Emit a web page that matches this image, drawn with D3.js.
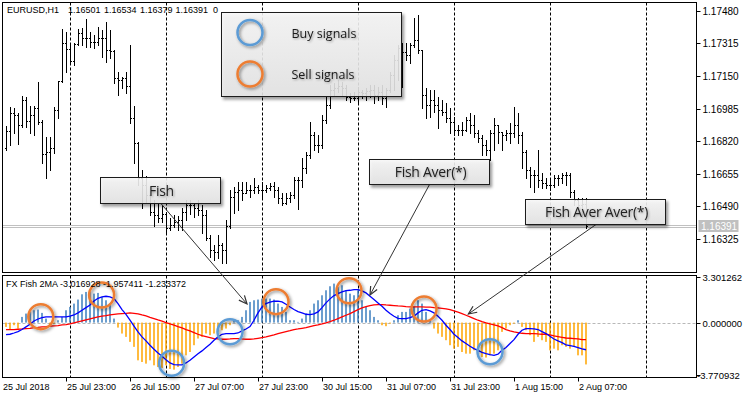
<!DOCTYPE html>
<html>
<head>
<meta charset="utf-8">
<script src="https://cdn.jsdelivr.net/npm/d3@7"></script>
<style>
  body { margin: 0; background: #fff; }
  svg { display: block; }
</style>
</head>
<body>
<svg id="chart" width="750" height="398"></svg>
<script>
// EURUSD H1 bars
const opens = [1.16785,1.16871,1.16962,1.16952,1.16901,1.17028,1.16922,1.16952,1.16988,1.16917,
  1.16755,1.16765,1.16785,1.16977,1.17124,1.17316,1.17286,1.17225,1.17311,1.17367,
  1.17342,1.17342,1.17321,1.17321,1.17342,1.17342,1.17281,1.17276,1.17139,1.17129,
  1.17139,1.17099,1.16937,1.16810,1.16633,1.16598,1.16547,1.16461,1.16446,1.16431,
  1.16451,1.16380,1.16396,1.16411,1.16421,1.16461,1.16497,1.16497,1.16482,1.16471,
  1.16446,1.16330,1.16269,1.16259,1.16294,1.16269,1.16390,1.16537,1.16562,1.16573,
  1.16557,1.16573,1.16573,1.16588,1.16573,1.16573,1.16583,1.16593,1.16573,1.16532,
  1.16507,1.16532,1.16547,1.16623,1.16623,1.16684,1.16750,1.16851,1.16800,1.16800,
  1.16927,1.17003,1.17079,1.17089,1.17099,1.17089,1.17043,1.17038,1.17038,1.17068,
  1.17063,1.17074,1.17079,1.17053,1.17068,1.17038,1.17079,1.17154,1.17230,1.17291,
  1.17271,1.17256,1.17306,1.17332,1.17281,1.17053,1.17003,1.17028,1.17003,1.16977,
  1.16967,1.16937,1.16917,1.16876,1.16876,1.16876,1.16927,1.16901,1.16861,1.16836,
  1.16800,1.16775,1.16861,1.16901,1.16866,1.16851,1.16861,1.16861,1.16901,1.16851,
  1.16765,1.16674,1.16648,1.16648,1.16623,1.16608,1.16598,1.16598,1.16633,1.16633,
  1.16648,1.16648,1.16562,1.16522,1.16497,1.16501];
const highs = [1.16896,1.16993,1.16988,1.16962,1.17048,1.17043,1.16998,1.16998,1.17119,1.16927,
  1.16841,1.16841,1.16993,1.17124,1.17387,1.17372,1.17316,1.17316,1.17387,1.17392,
  1.17438,1.17372,1.17357,1.17397,1.17382,1.17423,1.17382,1.17281,1.17170,1.17144,
  1.17170,1.17306,1.16998,1.16815,1.16674,1.16643,1.16547,1.16522,1.16507,1.16497,
  1.16461,1.16431,1.16446,1.16441,1.16482,1.16522,1.16522,1.16507,1.16522,1.16497,
  1.16471,1.16345,1.16294,1.16345,1.16304,1.16421,1.16573,1.16588,1.16613,1.16613,
  1.16613,1.16598,1.16633,1.16598,1.16613,1.16598,1.16608,1.16613,1.16588,1.16557,
  1.16557,1.16562,1.16638,1.16638,1.16734,1.16765,1.16917,1.16866,1.16851,1.16952,
  1.17043,1.17104,1.17114,1.17129,1.17119,1.17104,1.17063,1.17068,1.17094,1.17079,
  1.17089,1.17104,1.17104,1.17094,1.17104,1.17089,1.17170,1.17256,1.17306,1.17316,
  1.17316,1.17316,1.17443,1.17458,1.17281,1.17089,1.17079,1.17079,1.17043,1.17028,
  1.17013,1.16988,1.16942,1.16901,1.16917,1.16942,1.16962,1.16952,1.16876,1.16851,
  1.16826,1.16876,1.16937,1.16901,1.16866,1.16876,1.16912,1.16993,1.16962,1.16866,
  1.16775,1.16689,1.16674,1.16775,1.16659,1.16633,1.16623,1.16648,1.16648,1.16659,
  1.16664,1.16659,1.16573,1.16532,1.16532,1.16534];
const lows = [1.16775,1.16800,1.16861,1.16805,1.16891,1.16891,1.16861,1.16851,1.16907,1.16709,
  1.16633,1.16674,1.16760,1.16937,1.17119,1.17170,1.17210,1.17205,1.17306,1.17306,
  1.17296,1.17296,1.17291,1.17306,1.17246,1.17220,1.17241,1.17114,1.17053,1.17089,
  1.17063,1.16912,1.16709,1.16598,1.16482,1.16507,1.16446,1.16390,1.16411,1.16411,
  1.16355,1.16370,1.16385,1.16370,1.16370,1.16421,1.16451,1.16436,1.16446,1.16355,
  1.16320,1.16234,1.16218,1.16229,1.16203,1.16203,1.16380,1.16456,1.16471,1.16522,
  1.16557,1.16537,1.16557,1.16557,1.16537,1.16562,1.16573,1.16537,1.16507,1.16497,
  1.16502,1.16512,1.16532,1.16476,1.16588,1.16659,1.16734,1.16775,1.16765,1.16785,
  1.16912,1.16988,1.17053,1.17068,1.17053,1.17028,1.17018,1.17028,1.17018,1.17038,
  1.17028,1.17043,1.17013,1.17028,1.17008,1.16993,1.17068,1.17079,1.17129,1.17094,
  1.17230,1.17215,1.17296,1.17266,1.16988,1.16937,1.16942,1.16967,1.16886,1.16952,
  1.16917,1.16861,1.16851,1.16851,1.16851,1.16871,1.16861,1.16841,1.16815,1.16750,
  1.16750,1.16724,1.16775,1.16810,1.16775,1.16826,1.16810,1.16841,1.16810,1.16684,
  1.16633,1.16588,1.16562,1.16588,1.16583,1.16583,1.16573,1.16588,1.16598,1.16608,
  1.16598,1.16537,1.16497,1.16456,1.16436,1.16379];
const closes = [1.16871,1.16962,1.16952,1.16901,1.17028,1.16922,1.16952,1.16988,1.16917,1.16755,
  1.16765,1.16785,1.16977,1.17124,1.17316,1.17286,1.17225,1.17311,1.17367,1.17342,
  1.17342,1.17321,1.17321,1.17342,1.17342,1.17281,1.17276,1.17139,1.17129,1.17139,
  1.17099,1.16937,1.16810,1.16633,1.16598,1.16547,1.16461,1.16446,1.16431,1.16451,
  1.16380,1.16396,1.16411,1.16421,1.16461,1.16497,1.16497,1.16482,1.16471,1.16446,
  1.16330,1.16269,1.16259,1.16294,1.16269,1.16390,1.16537,1.16562,1.16573,1.16557,
  1.16573,1.16573,1.16588,1.16573,1.16573,1.16583,1.16593,1.16573,1.16532,1.16507,
  1.16532,1.16547,1.16623,1.16623,1.16684,1.16750,1.16851,1.16800,1.16800,1.16927,
  1.17003,1.17079,1.17089,1.17099,1.17089,1.17043,1.17038,1.17038,1.17068,1.17063,
  1.17074,1.17079,1.17053,1.17068,1.17038,1.17079,1.17154,1.17230,1.17291,1.17271,
  1.17256,1.17306,1.17332,1.17281,1.17053,1.17003,1.17028,1.17003,1.16977,1.16967,
  1.16937,1.16917,1.16876,1.16876,1.16876,1.16927,1.16901,1.16861,1.16836,1.16800,
  1.16775,1.16861,1.16901,1.16866,1.16851,1.16861,1.16861,1.16901,1.16851,1.16765,
  1.16674,1.16648,1.16648,1.16623,1.16608,1.16598,1.16598,1.16633,1.16633,1.16648,
  1.16648,1.16562,1.16522,1.16497,1.16502,1.16391];

// FX Fish 2MA buffers
const fish = [-0.31,-0.50,-0.19,-0.43,0.41,0.65,0.77,0.89,0.94,0.70,
  0.29,-0.19,-0.07,0.17,0.41,0.89,1.13,1.37,1.66,2.04,
  2.21,2.21,2.09,2.14,1.85,1.61,1.37,0.29,-0.36,-0.79,
  -1.03,-1.39,-1.75,-2.72,-2.84,-2.96,-2.72,-3.08,-3.20,-3.27,
  -3.08,-3.34,-3.39,-3.20,-2.96,-2.36,-2.12,-1.63,-1.15,-1.03,
  -0.79,-0.91,-0.79,-0.67,-0.55,-0.43,-0.19,0.17,0.17,0.41,
  0.89,1.49,1.61,1.66,1.73,1.73,1.73,1.66,1.37,1.13,
  0.77,0.17,0.17,0.05,0.29,0.65,0.89,1.37,1.61,1.97,
  2.33,2.62,2.81,2.57,2.69,2.33,2.09,1.97,2.33,1.61,
  1.13,0.89,0.41,0.17,-0.19,-0.26,-0.07,0.17,0.53,0.77,
  0.77,1.01,1.13,1.61,1.37,0.77,0.17,-0.43,-0.79,-1.03,
  -1.27,-1.63,-1.88,-1.75,-2.12,-2.24,-2.24,-2.00,-2.12,-2.48,
  -2.52,-2.36,-2.24,-2.00,-0.67,-0.43,-0.19,-0.07,0.17,-0.31,
  -0.55,-0.91,-1.39,-1.03,-1.27,-1.39,-2.00,-1.88,-2.00,-1.63,
  -1.75,-1.88,-1.75,-2.36,-2.36,-3.016928];
const fishAver = [-0.87,-0.84,-0.75,-0.65,-0.50,-0.31,-0.12,0.12,0.26,0.36,
  0.41,0.41,0.41,0.41,0.41,0.41,0.46,0.55,0.70,0.89,
  1.08,1.27,1.56,1.75,1.85,1.90,1.85,1.73,1.37,0.94,
  0.60,0.17,-0.26,-0.67,-1.03,-1.32,-1.63,-1.92,-2.19,-2.43,
  -2.67,-2.91,-3.03,-3.05,-3.05,-2.91,-2.72,-2.48,-2.24,-2.04,
  -1.80,-1.56,-1.27,-1.03,-0.84,-0.79,-0.79,-0.79,-0.75,-0.60,
  -0.46,-0.28,0.17,0.70,1.13,1.37,1.47,1.54,1.54,1.49,
  1.32,1.13,0.94,0.79,0.70,0.60,0.58,0.63,0.77,1.08,
  1.42,1.71,1.95,2.09,2.21,2.31,2.33,2.38,2.38,2.28,
  2.14,1.90,1.66,1.42,1.18,0.89,0.65,0.46,0.31,0.29,
  0.29,0.36,0.46,0.70,0.89,0.94,0.84,0.70,0.46,0.17,
  -0.19,-0.50,-0.84,-1.08,-1.32,-1.51,-1.71,-1.88,-2.00,-2.14,
  -2.24,-2.31,-2.36,-2.28,-2.00,-1.80,-1.51,-1.23,-0.84,-0.55,
  -0.43,-0.43,-0.46,-0.50,-0.65,-0.79,-0.99,-1.18,-1.32,-1.44,
  -1.61,-1.66,-1.71,-1.80,-1.90,-1.957411];
const fishAverAver = [-0.50,-0.50,-0.50,-0.48,-0.46,-0.43,-0.41,-0.36,-0.34,-0.31,
  -0.29,-0.26,-0.24,-0.22,-0.17,-0.14,-0.10,-0.02,0.05,0.12,
  0.19,0.26,0.34,0.41,0.46,0.50,0.55,0.60,0.63,0.65,
  0.67,0.70,0.67,0.63,0.55,0.48,0.38,0.29,0.19,0.10,
  0.00,-0.10,-0.19,-0.29,-0.38,-0.50,-0.60,-0.72,-0.84,-0.94,
  -1.01,-1.08,-1.15,-1.18,-1.20,-1.20,-1.18,-1.15,-1.15,-1.18,
  -1.20,-1.20,-1.18,-1.13,-1.08,-1.03,-0.96,-0.89,-0.79,-0.72,
  -0.65,-0.58,-0.50,-0.46,-0.41,-0.36,-0.29,-0.22,-0.17,-0.10,
  -0.02,0.07,0.17,0.29,0.41,0.53,0.65,0.79,0.94,1.06,
  1.15,1.23,1.27,1.30,1.30,1.27,1.25,1.23,1.20,1.18,
  1.15,1.13,1.13,1.13,1.13,1.11,1.11,1.08,1.06,1.03,
  0.99,0.94,0.84,0.75,0.65,0.53,0.41,0.29,0.17,0.07,
  -0.02,-0.10,-0.17,-0.24,-0.36,-0.50,-0.60,-0.67,-0.72,-0.77,
  -0.79,-0.79,-0.79,-0.82,-0.84,-0.84,-0.89,-0.96,-1.01,-1.06,
  -1.11,-1.13,-1.15,-1.18,-1.23,-1.233372];

// signals: [bar, level]
const sellSignals = [[8.7, 0.43], [23.9, 1.99], [67.5, 1.51], [85.75, 2.30], [104.5, 0.98]];
const buySignals = [[41.4, -2.93], [56, -0.66], [121, -2.10]];

// axes
const priceTicks = [1.17480, 1.17315, 1.17150, 1.16985, 1.16820, 1.16655, 1.16490, 1.16325];
const indTicks = [3.301262, 0.0, -3.770932];
const timeTickBars = [15, 31, 47, 63, 79, 95, 111, 127, 143];
const timeTickLabels = ['25 Jul 23:00', '26 Jul 15:00', '27 Jul 07:00', '27 Jul 23:00', '30 Jul 15:00',
  '31 Jul 07:00', '31 Jul 23:00', '1 Aug 15:00', '2 Aug 07:00'];
const firstTimeLabel = '25 Jul 2018';
const separatorBars = [16, 40, 64, 88, 112, 136, 160];
const lastBid = 1.16391;

// callouts: label, target [bar, level]
const calloutLabels = ['Fish', 'Fish Aver(*)', 'Fish Aver Aver(*)'];
const calloutTargets = [[60.25, 1.34], [91, 1.99], [115.6, 0.62]];
const legendLabels = ['Buy signals', 'Sell signals'];

const svg = d3.select('svg#chart');
const left = 2.5, right = 696.5;
const mainTop = 2.5, mainBottom = 272.5, indTop = 275.5, indBottom = 377.5;

const x = d3.scaleLinear().domain([0, 145]).range([6, 586]);
const yP = d3.scaleLinear().domain([1.16325, 1.17480]).range([239, 10.7]);
const yI = d3.scaleLinear().domain([-3.770932, 3.301262]).range([374.9, 276.8]);

const axisFont = "'Liberation Sans', Arial, sans-serif";
const noteFont = "'Open Sans', 'Noto Sans', sans-serif";

// ---- defs
const defs = svg.append('defs');
const boxShadow = defs.append('filter').attr('id', 'boxShadow')
  .attr('x', '-10%').attr('y', '-20%').attr('width', '130%').attr('height', '160%');
boxShadow.append('feDropShadow').attr('dx', 2).attr('dy', 2.5).attr('stdDeviation', 1.8)
  .attr('flood-color', '#000').attr('flood-opacity', 0.45);
const ringShadow = defs.append('filter').attr('id', 'ringShadow')
  .attr('x', '-40%').attr('y', '-40%').attr('width', '190%').attr('height', '190%');
ringShadow.append('feDropShadow').attr('dx', 1.5).attr('dy', 1.5).attr('stdDeviation', 1.6)
  .attr('flood-color', '#000').attr('flood-opacity', 0.45);
const textShadow = defs.append('filter').attr('id', 'textShadow')
  .attr('x', '-10%').attr('y', '-30%').attr('width', '130%').attr('height', '170%');
textShadow.append('feDropShadow').attr('dx', 1).attr('dy', 1).attr('stdDeviation', 0.8)
  .attr('flood-color', '#000').attr('flood-opacity', 0.35);
const grad = defs.append('linearGradient').attr('id', 'boxFill')
  .attr('x1', 0).attr('y1', 0).attr('x2', 0).attr('y2', 1);
grad.append('stop').attr('offset', '0%').attr('stop-color', '#f8f8f8');
grad.append('stop').attr('offset', '100%').attr('stop-color', '#e6e6e6');
defs.append('clipPath').attr('id', 'mainClip').append('rect')
  .attr('x', 3).attr('y', 3).attr('width', 693).attr('height', 269);
defs.append('clipPath').attr('id', 'indClip').append('rect')
  .attr('x', 3).attr('y', 276).attr('width', 693).attr('height', 101);

svg.append('rect').attr('width', 750).attr('height', 398).attr('fill', '#fff');

// ---- main window
const gMain = svg.append('g').attr('clip-path', 'url(#mainClip)');
gMain.selectAll('line.sep').data(separatorBars).join('line')
  .attr('x1', d => Math.round(x(d)) + 0.5).attr('x2', d => Math.round(x(d)) + 0.5)
  .attr('y1', mainTop).attr('y2', mainBottom)
  .attr('stroke', '#000').attr('stroke-dasharray', '3,2');

[-1, 1].forEach(o => {
  gMain.append('line')
    .attr('x1', left).attr('x2', right)
    .attr('y1', Math.round(yP(lastBid)) + o + 0.5).attr('y2', Math.round(yP(lastBid)) + o + 0.5)
    .attr('stroke', '#c0c0c0');
});

const gBars = gMain.append('g').attr('shape-rendering', 'crispEdges').attr('fill', '#000');
closes.forEach((c, i) => {
  const px = Math.round(x(i));
  const yh = Math.round(yP(highs[i])), yl = Math.round(yP(lows[i]));
  gBars.append('rect').attr('x', px).attr('y', yh).attr('width', 1).attr('height', yl - yh + 1);
  gBars.append('rect').attr('x', px - 1).attr('y', Math.round(yP(opens[i]))).attr('width', 1).attr('height', 1);
  gBars.append('rect').attr('x', px + 1).attr('y', Math.round(yP(c))).attr('width', 1).attr('height', 1);
});

// ---- indicator window
const gInd = svg.append('g').attr('clip-path', 'url(#indClip)');
gInd.selectAll('line.sep').data(separatorBars).join('line')
  .attr('x1', d => Math.round(x(d)) + 0.5).attr('x2', d => Math.round(x(d)) + 0.5)
  .attr('y1', indTop).attr('y2', indBottom)
  .attr('stroke', '#000').attr('stroke-dasharray', '3,2');
gInd.append('line')
  .attr('x1', left).attr('x2', right)
  .attr('y1', Math.round(yI(0)) + 0.5).attr('y2', Math.round(yI(0)) + 0.5)
  .attr('stroke', '#b8b8b8').attr('stroke-dasharray', '3,2');
gInd.append('g')
  .selectAll('rect').data(fish).join('rect')
  .attr('x', (d, i) => Math.round(x(i)) - 0.75).attr('width', 1.5)
  .attr('y', d => Math.min(yI(0), yI(d))).attr('height', d => Math.abs(yI(d) - yI(0)))
  .attr('fill', d => d >= 0 ? '#3d7fbf' : '#ffa500');

const line = d3.line().x((d, i) => x(i)).y(d => yI(d));
gInd.append('path').datum(fishAverAver).attr('d', line)
  .attr('fill', 'none').attr('stroke', '#ff0000').attr('stroke-width', 1.3);
gInd.append('path').datum(fishAver).attr('d', line)
  .attr('fill', 'none').attr('stroke', '#0000ff').attr('stroke-width', 1.3);

const ring = (g, cx, cy, color) => g.append('circle')
  .attr('cx', cx).attr('cy', cy).attr('r', 12.5)
  .attr('fill', 'none').attr('stroke', color).attr('stroke-width', 2.5)
  .attr('filter', 'url(#ringShadow)');
sellSignals.forEach(d => ring(svg, x(d[0]), yI(d[1]), '#ed7d31'));
buySignals.forEach(d => ring(svg, x(d[0]), yI(d[1]), '#5b9bd5'));

// ---- frames
svg.append('rect').attr('x', left).attr('y', mainTop)
  .attr('width', right - left).attr('height', mainBottom - mainTop)
  .attr('fill', 'none').attr('stroke', '#000');
svg.append('rect').attr('x', left).attr('y', indTop)
  .attr('width', right - left).attr('height', indBottom - indTop)
  .attr('fill', 'none').attr('stroke', '#000');

// ---- price axis
const gAxis = svg.append('g').attr('font-family', axisFont).attr('fill', '#000');
priceTicks.forEach(p => {
  const y = Math.round(yP(p)) + 0.5;
  gAxis.append('line').attr('x1', right).attr('x2', right + 4).attr('y1', y).attr('y2', y).attr('stroke', '#000');
  gAxis.append('text').attr('x', right + 6).attr('y', y + 3.5).attr('font-size', 10).text(p.toFixed(5));
});
const bidY = Math.round(yP(lastBid));
gAxis.append('rect').attr('x', right + 2).attr('y', bidY - 6).attr('width', 40).attr('height', 12).attr('fill', '#c0c0c0');
gAxis.append('text').attr('x', right + 4.5).attr('y', bidY + 3.5).attr('font-size', 10)
  .attr('fill', '#fff').text(lastBid.toFixed(5));

indTicks.forEach(v => {
  const y = Math.round(yI(v)) + 0.5;
  gAxis.append('line').attr('x1', right).attr('x2', right + 4).attr('y1', y).attr('y2', y).attr('stroke', '#000');
  gAxis.append('text').attr('x', v < 0 ? right + 0.5 : right + 6).attr('y', y + 3.5)
    .attr('font-size', 9.5).text(v.toFixed(6));
});

// ---- time axis
gAxis.append('text').attr('x', 3).attr('y', 390).attr('font-size', 9).text(firstTimeLabel);
timeTickBars.forEach((b, k) => {
  const tx = Math.round(x(b)) + 0.5;
  gAxis.append('line').attr('x1', tx).attr('x2', tx).attr('y1', indBottom).attr('y2', indBottom + 4).attr('stroke', '#000');
  gAxis.append('text').attr('x', tx + 0.5).attr('y', 390).attr('font-size', 9).text(timeTickLabels[k]);
});

// ---- headers
const last = closes.length - 1;
const header = ['EURUSD,H1', opens[last].toFixed(5), highs[last].toFixed(5), lows[last].toFixed(5), closes[last].toFixed(5), '0'];
const headerX = [7, 68, 104, 140, 175.5, 213];
header.forEach((t, k) => {
  gAxis.append('text').attr('x', headerX[k]).attr('y', 13).attr('font-size', 9).text(t);
});
gAxis.append('text').attr('x', 6).attr('y', 286.5).attr('font-size', 9)
  .text(`FX Fish 2MA ${fish[last].toFixed(6)} ${fishAver[last].toFixed(6)} ${fishAverAver[last].toFixed(6)}`);

// ---- callouts
const boxes = [
  { x: 100.5, y: 177.5, w: 120, h: 26, from: [160.5, 203] },
  { x: 369.5, y: 159.5, w: 120, h: 25, from: [429.5, 184.5] },
  { x: 525.5, y: 199.5, w: 140, h: 25, from: [596, 224.5] },
];
const gNote = svg.append('g');
boxes.forEach((b, k) => {
  const tx = x(calloutTargets[k][0]), ty = yI(calloutTargets[k][1]);
  const [fx, fy] = b.from;
  gNote.append('line').attr('x1', fx).attr('y1', fy).attr('x2', tx).attr('y2', ty)
    .attr('stroke', '#333').attr('stroke-width', 1);
  const a = Math.atan2(ty - fy, tx - fx);
  const len = 9, spread = 0.42;
  const p1 = [tx - len * Math.cos(a - spread), ty - len * Math.sin(a - spread)];
  const p2 = [tx - len * Math.cos(a + spread), ty - len * Math.sin(a + spread)];
  gNote.append('path').attr('d', `M${p1}L${tx},${ty}L${p2}`)
    .attr('fill', 'none').attr('stroke', '#333').attr('stroke-width', 1.2);
});
boxes.forEach((b, k) => {
  gNote.append('rect').attr('x', b.x).attr('y', b.y).attr('width', b.w).attr('height', b.h)
    .attr('fill', 'url(#boxFill)').attr('fill-opacity', 0.86)
    .attr('stroke', '#1e1e1e').attr('filter', 'url(#boxShadow)');
  gNote.append('text').attr('x', b.x + b.w / 2 + 1).attr('y', b.y + b.h / 2 + 5)
    .attr('text-anchor', 'middle').attr('font-family', noteFont).attr('font-size', 14)
    .attr('letter-spacing', -0.3).attr('fill', '#222').attr('filter', 'url(#textShadow)')
    .text(calloutLabels[k]);
});

// ---- legend
const gLeg = svg.append('g');
gLeg.append('rect').attr('x', 221.5).attr('y', 12.5).attr('width', 180).attr('height', 84)
  .attr('fill', 'url(#boxFill)').attr('fill-opacity', 0.86)
  .attr('stroke', '#1e1e1e').attr('filter', 'url(#boxShadow)');
ring(gLeg, 250, 32.5, '#5b9bd5');
ring(gLeg, 250, 74, '#ed7d31');
legendLabels.forEach((t, k) => {
  gLeg.append('text').attr('x', 291.5).attr('y', k === 0 ? 38 : 79)
    .attr('font-family', noteFont).attr('font-size', 12.5).attr('fill', '#1a1a1a')
    .attr('filter', 'url(#textShadow)').text(t);
});
</script>
</body>
</html>
